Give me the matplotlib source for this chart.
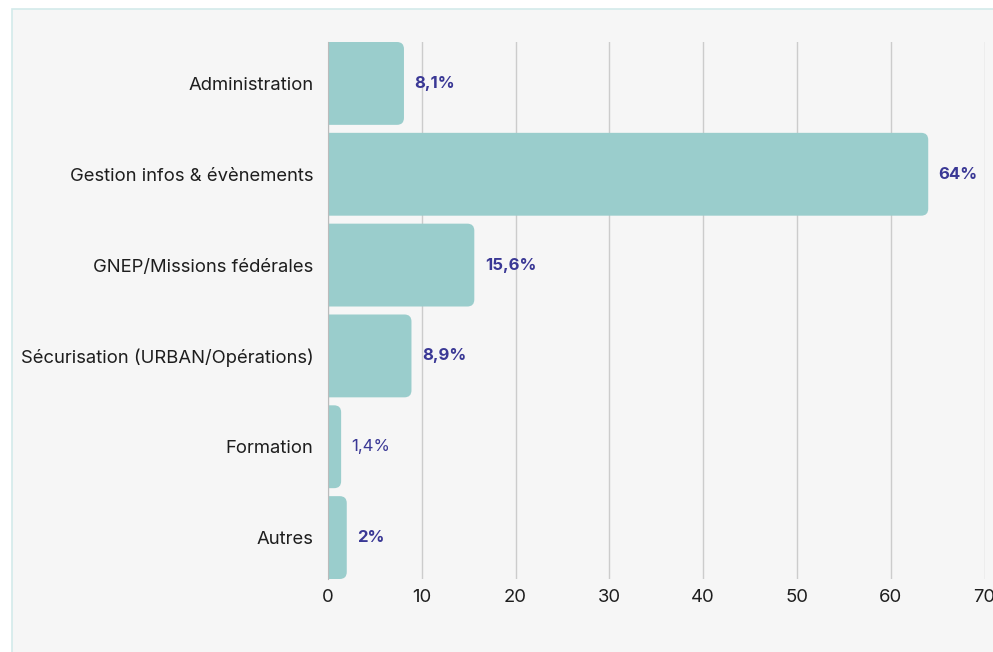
import matplotlib.pyplot as plt
from matplotlib.patches import FancyBboxPatch, Rectangle

plt.rcParams['font.family'] = ['Inter', 'DejaVu Sans']

# donnees
categories = ["Administration", "Gestion infos & évènements", "GNEP/Missions fédérales",
              "Sécurisation (URBAN/Opérations)", "Formation", "Autres"]
valeurs = [8.1, 64, 15.6, 8.9, 1.4, 2]
etiquettes = ["8,1%", "64%", "15,6%", "8,9%", "1,4%", "2%"]
gras = [True, True, True, True, False, True]

couleur_barre = "#9acdcc"
couleur_texte = "#3a3895"

fig = plt.figure(figsize=(9.93, 6.52), dpi=100)
fig.patch.set_facecolor("white")
# panneau de fond
fond = Rectangle((12/993, -0.01), 1.0, 1 - 9/652 + 0.01, transform=fig.transFigure,
                 facecolor="#f6f6f6", edgecolor="#d3eaea", linewidth=1.2, zorder=-5)
fig.add_artist(fond)

ax = fig.add_axes([328/993, 1 - 579/652, (984.5 - 328)/993, (579 - 42)/652])
ax.set_facecolor("none")
ax.set_zorder(2)

h = 83/91
ax.set_xlim(0, 70)
ax.set_ylim(len(valeurs) - 1 + h/2, -h/2)

# barres arrondies a droite (coin gauche cache sous l'axe)
px_x = 70/(984.5 - 328)
px_y = (len(valeurs) - 1 + h)/(579 - 42)
for i, v in enumerate(valeurs):
    b = FancyBboxPatch((-2, i - h/2), v + 2, h,
                       boxstyle="round,pad=0,rounding_size=%f" % (7*px_x),
                       mutation_aspect=px_y/px_x,
                       facecolor=couleur_barre, edgecolor="none", zorder=2)
    ax.add_patch(b)
    ax.text(v + 10.5*px_x, i, etiquettes[i], va="center", ha="left", fontsize=12,
            fontweight="bold" if gras[i] else "normal", color=couleur_texte, zorder=3)

ax.set_yticks(range(len(categories)))
ax.set_yticklabels(categories, fontsize=13.3, color="#1e1e1e")
ax.set_xticks(range(0, 71, 10))
ax.tick_params(axis="both", length=0, labelcolor="#1e1e1e")
ax.tick_params(axis="x", labelsize=13.3, pad=7)
ax.tick_params(axis="y", pad=10.5)
ax.grid(axis="x", color="#cccccc", linewidth=1, zorder=1)
ax.set_axisbelow(True)
for s in ["top", "right", "bottom"]:
    ax.spines[s].set_visible(False)
ax.spines["left"].set_color("#bbbbbb")

plt.savefig("out.png", dpi=100)
